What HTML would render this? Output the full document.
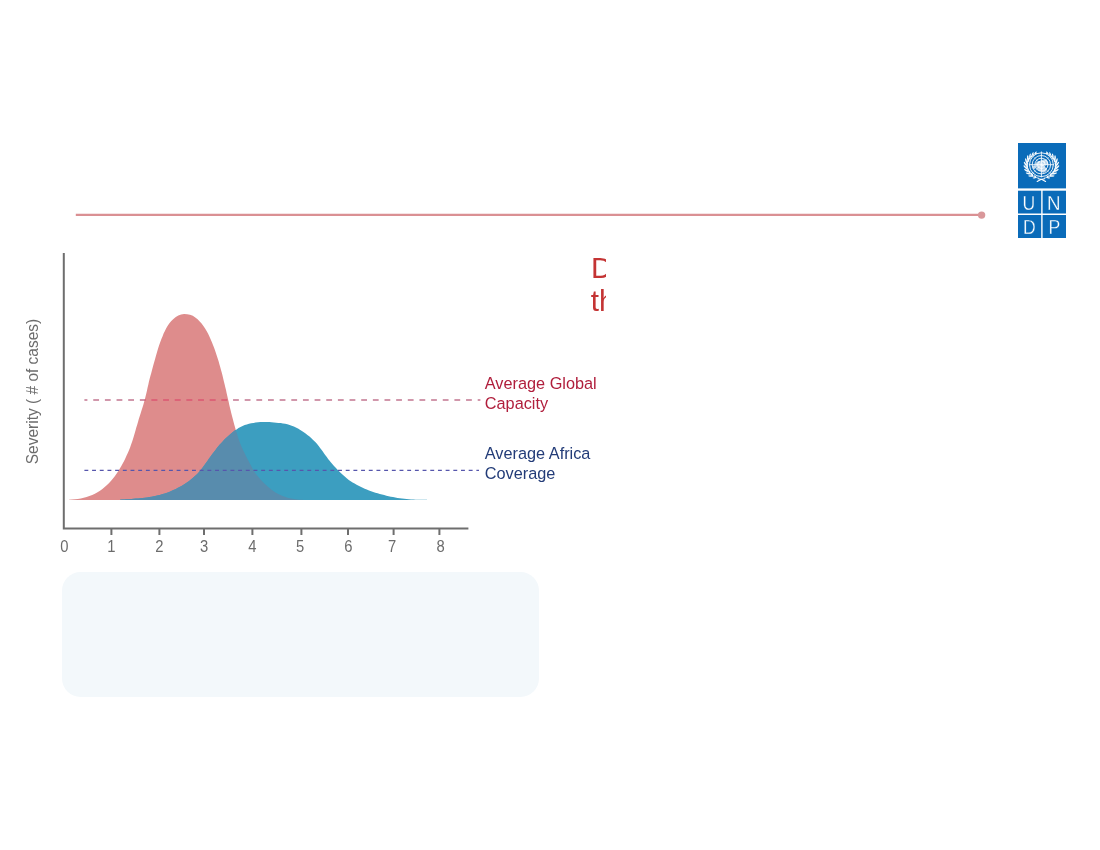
<!DOCTYPE html>
<html lang="en"><head><meta charset="utf-8"><title>Flatten the curve</title>
<style>
html,body{margin:0;padding:0;background:#fff;}
body{width:1100px;height:850px;overflow:hidden;position:relative;font-family:"Liberation Sans",Arial,sans-serif;}
svg{position:absolute;left:0;top:0;display:block}
text{font-family:"Liberation Sans",Arial,sans-serif}
.note{position:absolute;left:62px;top:571.6px;width:477px;height:125.4px;border-radius:18.5px;background:#F3F8FB}
</style></head><body>
<div class="note"></div>
<svg width="1100" height="850" viewBox="0 0 1100 850">
 <defs>
  <clipPath id="cut"><rect x="585" y="245" width="21" height="80"/></clipPath>
  <clipPath id="redclip"><path d="M69.0 500.0L69.0 499.8L71.9 499.6L74.9 499.3L77.8 498.9L80.8 498.4L83.7 497.8L86.6 497.0L89.4 496.0L92.2 495.0L94.9 493.7L97.5 492.3L100.0 490.7L102.4 489.0L104.7 487.1L107.0 485.1L109.1 483.0L111.1 480.8L113.0 478.6L114.8 476.2L116.5 473.8L118.2 471.3L119.7 468.8L121.2 466.2L122.7 463.6L124.1 461.0L125.4 458.3L126.6 455.6L127.8 452.9L129.0 450.2L130.1 447.4L131.1 444.6L132.1 441.8L133.0 439.0L133.9 436.1L134.7 433.3L135.5 430.5L136.3 427.6L137.2 424.7L138.0 421.9L138.8 419.0L139.7 416.2L140.6 413.4L141.5 410.6L142.4 407.7L143.3 404.9L144.1 402.0L144.9 399.2L145.6 396.3L146.3 393.4L147.0 390.5L147.6 387.6L148.3 384.7L148.9 381.8L149.6 379.0L150.4 376.1L151.2 373.2L151.9 370.4L152.7 367.5L153.5 364.6L154.3 361.8L155.1 358.9L155.9 356.1L156.7 353.2L157.5 350.4L158.4 347.5L159.3 344.7L160.3 341.9L161.4 339.1L162.5 336.4L163.6 333.6L164.9 330.9L166.2 328.3L167.7 325.7L169.4 323.3L171.3 321.0L173.4 318.9L175.8 317.0L178.3 315.5L181.1 314.6L184.1 314.1L187.1 314.2L190.0 314.7L192.8 315.8L195.3 317.4L197.6 319.3L199.7 321.4L201.6 323.6L203.4 326.0L205.1 328.5L206.6 331.0L208.0 333.6L209.3 336.3L210.5 339.0L211.7 341.7L212.8 344.5L213.9 347.3L214.9 350.1L215.9 352.9L216.8 355.7L217.7 358.5L218.6 361.3L219.4 364.2L220.2 367.0L221.0 369.9L221.8 372.8L222.5 375.6L223.2 378.5L223.9 381.4L224.6 384.3L225.3 387.2L226.0 390.1L226.6 393.0L227.3 395.9L227.9 398.8L228.6 401.6L229.2 404.5L229.9 407.4L230.6 410.3L231.3 413.2L232.0 416.1L232.8 418.9L233.5 421.8L234.3 424.7L235.1 427.5L235.9 430.4L236.8 433.3L237.6 436.1L238.6 438.9L239.6 441.7L240.6 444.5L241.8 447.2L243.0 449.9L244.3 452.6L245.6 455.2L246.9 457.9L248.3 460.5L249.7 463.2L251.1 465.8L252.5 468.4L254.0 470.9L255.6 473.4L257.4 475.8L259.3 478.1L261.3 480.3L263.4 482.4L265.5 484.5L267.7 486.5L270.0 488.4L272.3 490.3L274.7 492.0L277.3 493.5L279.9 494.8L282.7 496.0L285.5 497.0L288.3 497.9L291.2 498.5L294.1 499.1L297.1 499.4L300.0 499.7L303.0 499.8L303.0 500.0Z"/></clipPath>
 </defs>
 <!-- header rule -->
 <line x1="75.8" y1="214.9" x2="981" y2="214.9" stroke="#DA9093" stroke-width="2.3"/>
 <circle cx="981.6" cy="215.1" r="3.7" fill="#D9979A"/>
 <!-- curves -->
 <path d="M69.0 500.0L69.0 499.8L71.9 499.6L74.9 499.3L77.8 498.9L80.8 498.4L83.7 497.8L86.6 497.0L89.4 496.0L92.2 495.0L94.9 493.7L97.5 492.3L100.0 490.7L102.4 489.0L104.7 487.1L107.0 485.1L109.1 483.0L111.1 480.8L113.0 478.6L114.8 476.2L116.5 473.8L118.2 471.3L119.7 468.8L121.2 466.2L122.7 463.6L124.1 461.0L125.4 458.3L126.6 455.6L127.8 452.9L129.0 450.2L130.1 447.4L131.1 444.6L132.1 441.8L133.0 439.0L133.9 436.1L134.7 433.3L135.5 430.5L136.3 427.6L137.2 424.7L138.0 421.9L138.8 419.0L139.7 416.2L140.6 413.4L141.5 410.6L142.4 407.7L143.3 404.9L144.1 402.0L144.9 399.2L145.6 396.3L146.3 393.4L147.0 390.5L147.6 387.6L148.3 384.7L148.9 381.8L149.6 379.0L150.4 376.1L151.2 373.2L151.9 370.4L152.7 367.5L153.5 364.6L154.3 361.8L155.1 358.9L155.9 356.1L156.7 353.2L157.5 350.4L158.4 347.5L159.3 344.7L160.3 341.9L161.4 339.1L162.5 336.4L163.6 333.6L164.9 330.9L166.2 328.3L167.7 325.7L169.4 323.3L171.3 321.0L173.4 318.9L175.8 317.0L178.3 315.5L181.1 314.6L184.1 314.1L187.1 314.2L190.0 314.7L192.8 315.8L195.3 317.4L197.6 319.3L199.7 321.4L201.6 323.6L203.4 326.0L205.1 328.5L206.6 331.0L208.0 333.6L209.3 336.3L210.5 339.0L211.7 341.7L212.8 344.5L213.9 347.3L214.9 350.1L215.9 352.9L216.8 355.7L217.7 358.5L218.6 361.3L219.4 364.2L220.2 367.0L221.0 369.9L221.8 372.8L222.5 375.6L223.2 378.5L223.9 381.4L224.6 384.3L225.3 387.2L226.0 390.1L226.6 393.0L227.3 395.9L227.9 398.8L228.6 401.6L229.2 404.5L229.9 407.4L230.6 410.3L231.3 413.2L232.0 416.1L232.8 418.9L233.5 421.8L234.3 424.7L235.1 427.5L235.9 430.4L236.8 433.3L237.6 436.1L238.6 438.9L239.6 441.7L240.6 444.5L241.8 447.2L243.0 449.9L244.3 452.6L245.6 455.2L246.9 457.9L248.3 460.5L249.7 463.2L251.1 465.8L252.5 468.4L254.0 470.9L255.6 473.4L257.4 475.8L259.3 478.1L261.3 480.3L263.4 482.4L265.5 484.5L267.7 486.5L270.0 488.4L272.3 490.3L274.7 492.0L277.3 493.5L279.9 494.8L282.7 496.0L285.5 497.0L288.3 497.9L291.2 498.5L294.1 499.1L297.1 499.4L300.0 499.7L303.0 499.8L303.0 500.0Z" fill="#DE8C8C"/>
 <path d="M120.0 500.0L120.0 499.8L122.2 499.6L124.5 499.5L126.8 499.3L129.0 499.2L131.3 499.0L133.6 498.8L135.8 498.6L138.1 498.4L140.4 498.2L142.7 498.0L144.9 497.7L147.2 497.4L149.4 497.0L151.7 496.7L153.9 496.3L156.2 495.8L158.4 495.3L160.6 494.7L162.8 494.1L164.9 493.4L167.1 492.7L169.2 491.9L171.3 491.0L173.4 490.1L175.5 489.2L177.5 488.1L179.5 487.1L181.5 486.0L183.5 484.8L185.4 483.6L187.3 482.3L189.1 481.0L190.9 479.6L192.7 478.1L194.4 476.6L196.1 475.1L197.7 473.5L199.2 471.8L200.7 470.1L202.1 468.3L203.4 466.4L204.8 464.6L206.1 462.7L207.4 460.9L208.7 459.0L210.0 457.2L211.4 455.3L212.7 453.5L214.1 451.7L215.5 449.9L216.9 448.1L218.3 446.3L219.8 444.6L221.3 442.9L222.9 441.2L224.4 439.6L226.0 438.0L227.7 436.4L229.4 434.9L231.1 433.4L232.9 432.0L234.7 430.6L236.6 429.4L238.5 428.1L240.5 427.0L242.6 426.0L244.7 425.1L246.8 424.4L249.0 423.7L251.2 423.2L253.5 422.9L255.7 422.5L258.0 422.3L260.3 422.1L262.5 422.0L264.8 422.0L267.1 422.0L269.4 422.1L271.6 422.3L273.9 422.5L276.2 422.7L278.4 422.9L280.7 423.1L283.0 423.4L285.2 423.8L287.4 424.3L289.6 425.0L291.7 425.7L293.9 426.6L295.9 427.5L298.0 428.6L299.9 429.7L301.9 430.9L303.8 432.2L305.6 433.5L307.4 434.9L309.2 436.3L310.9 437.8L312.6 439.4L314.2 441.0L315.8 442.6L317.3 444.3L318.7 446.1L320.1 447.9L321.5 449.7L322.8 451.5L324.1 453.4L325.4 455.2L326.8 457.1L328.1 458.9L329.6 460.7L331.0 462.4L332.5 464.2L334.0 465.9L335.5 467.5L337.1 469.2L338.7 470.9L340.3 472.5L341.9 474.1L343.6 475.6L345.3 477.1L347.0 478.5L348.8 479.9L350.7 481.2L352.6 482.5L354.6 483.6L356.6 484.8L358.6 485.8L360.6 486.8L362.7 487.8L364.7 488.7L366.8 489.6L369.0 490.4L371.1 491.2L373.2 492.0L375.4 492.7L377.6 493.3L379.8 493.9L382.0 494.5L384.2 495.1L386.4 495.7L388.6 496.2L390.8 496.7L393.0 497.1L395.3 497.5L397.5 497.9L399.8 498.2L402.0 498.5L404.3 498.8L406.5 499.0L408.8 499.2L411.1 499.4L413.4 499.5L415.6 499.7L417.9 499.7L420.2 499.8L422.5 499.8L424.7 499.8L427.0 499.8L427.0 500.0Z" fill="#3C9EC0"/>
 <path d="M120.0 500.0L120.0 499.8L122.2 499.6L124.5 499.5L126.8 499.3L129.0 499.2L131.3 499.0L133.6 498.8L135.8 498.6L138.1 498.4L140.4 498.2L142.7 498.0L144.9 497.7L147.2 497.4L149.4 497.0L151.7 496.7L153.9 496.3L156.2 495.8L158.4 495.3L160.6 494.7L162.8 494.1L164.9 493.4L167.1 492.7L169.2 491.9L171.3 491.0L173.4 490.1L175.5 489.2L177.5 488.1L179.5 487.1L181.5 486.0L183.5 484.8L185.4 483.6L187.3 482.3L189.1 481.0L190.9 479.6L192.7 478.1L194.4 476.6L196.1 475.1L197.7 473.5L199.2 471.8L200.7 470.1L202.1 468.3L203.4 466.4L204.8 464.6L206.1 462.7L207.4 460.9L208.7 459.0L210.0 457.2L211.4 455.3L212.7 453.5L214.1 451.7L215.5 449.9L216.9 448.1L218.3 446.3L219.8 444.6L221.3 442.9L222.9 441.2L224.4 439.6L226.0 438.0L227.7 436.4L229.4 434.9L231.1 433.4L232.9 432.0L234.7 430.6L236.6 429.4L238.5 428.1L240.5 427.0L242.6 426.0L244.7 425.1L246.8 424.4L249.0 423.7L251.2 423.2L253.5 422.9L255.7 422.5L258.0 422.3L260.3 422.1L262.5 422.0L264.8 422.0L267.1 422.0L269.4 422.1L271.6 422.3L273.9 422.5L276.2 422.7L278.4 422.9L280.7 423.1L283.0 423.4L285.2 423.8L287.4 424.3L289.6 425.0L291.7 425.7L293.9 426.6L295.9 427.5L298.0 428.6L299.9 429.7L301.9 430.9L303.8 432.2L305.6 433.5L307.4 434.9L309.2 436.3L310.9 437.8L312.6 439.4L314.2 441.0L315.8 442.6L317.3 444.3L318.7 446.1L320.1 447.9L321.5 449.7L322.8 451.5L324.1 453.4L325.4 455.2L326.8 457.1L328.1 458.9L329.6 460.7L331.0 462.4L332.5 464.2L334.0 465.9L335.5 467.5L337.1 469.2L338.7 470.9L340.3 472.5L341.9 474.1L343.6 475.6L345.3 477.1L347.0 478.5L348.8 479.9L350.7 481.2L352.6 482.5L354.6 483.6L356.6 484.8L358.6 485.8L360.6 486.8L362.7 487.8L364.7 488.7L366.8 489.6L369.0 490.4L371.1 491.2L373.2 492.0L375.4 492.7L377.6 493.3L379.8 493.9L382.0 494.5L384.2 495.1L386.4 495.7L388.6 496.2L390.8 496.7L393.0 497.1L395.3 497.5L397.5 497.9L399.8 498.2L402.0 498.5L404.3 498.8L406.5 499.0L408.8 499.2L411.1 499.4L413.4 499.5L415.6 499.7L417.9 499.7L420.2 499.8L422.5 499.8L424.7 499.8L427.0 499.8L427.0 500.0Z" fill="#588CAD" clip-path="url(#redclip)"/>
 <!-- dashed reference lines -->
 <line x1="84.4" y1="400" x2="480.4" y2="400" stroke="#C27590" stroke-width="1.6" stroke-dasharray="5.8 5.85" stroke-dashoffset="2.8"/>
 <line x1="84.4" y1="400" x2="480.4" y2="400" stroke="#E25C70" stroke-width="1.6" stroke-dasharray="5.8 5.85" stroke-dashoffset="2.8" clip-path="url(#redclip)"/>
 <line x1="84.4" y1="470.4" x2="479" y2="470.4" stroke="#5656AC" stroke-width="1.3" stroke-dasharray="3.9 3.786"/>
 <!-- axes -->
 <g stroke="#6E6E6E" stroke-width="2" fill="none">
  <path d="M63.8 253V528.6H468.4"/>
  <line x1="111.4" y1="528.6" x2="111.4" y2="535" /><line x1="159.4" y1="528.6" x2="159.4" y2="535" /><line x1="204.0" y1="528.6" x2="204.0" y2="535" /><line x1="252.4" y1="528.6" x2="252.4" y2="535" /><line x1="301.4" y1="528.6" x2="301.4" y2="535" /><line x1="348.0" y1="528.6" x2="348.0" y2="535" /><line x1="393.6" y1="528.6" x2="393.6" y2="535" /><line x1="439.4" y1="528.6" x2="439.4" y2="535" />
 </g>
 <g font-size="17" fill="#6C6C6C" text-anchor="middle"><text transform="translate(64.4 551.5) scale(.87 1)">0</text><text transform="translate(111.4 551.5) scale(.87 1)">1</text><text transform="translate(159.4 551.5) scale(.87 1)">2</text><text transform="translate(204.0 551.5) scale(.87 1)">3</text><text transform="translate(252.4 551.5) scale(.87 1)">4</text><text transform="translate(300.2 551.5) scale(.87 1)">5</text><text transform="translate(348.4 551.5) scale(.87 1)">6</text><text transform="translate(392.0 551.5) scale(.87 1)">7</text><text transform="translate(440.6 551.5) scale(.87 1)">8</text></g>
 <text transform="translate(38.3 391.5) rotate(-90) scale(.896 1)" font-size="17.3" fill="#6C6C6C" text-anchor="middle">Severity ( # of cases)</text>
 <g font-size="16.3" fill="#B01E3C"><text x="484.8" y="389">Average Global</text><text x="484.8" y="409">Capacity</text></g>
 <g font-size="16.3" fill="#233C78"><text x="484.8" y="459.2">Average Africa</text><text x="484.8" y="478.6">Coverage</text></g>
 <!-- clipped heading -->
 <g clip-path="url(#cut)" fill="#C43434"><text x="591" y="277.7" font-size="29.8">D</text><text x="590.8" y="310.6" font-size="29.6">th</text></g>
 <!-- UNDP logo -->
 <g>
  <rect x="1018" y="143" width="48" height="45.4" fill="#0A6BB9"/>
  <rect x="1018" y="190.7" width="23.2" height="22.8" fill="#0A6BB9"/>
  <rect x="1042.6" y="190.7" width="23.4" height="22.8" fill="#0A6BB9"/>
  <rect x="1018" y="215" width="23.2" height="23" fill="#0A6BB9"/>
  <rect x="1042.6" y="215" width="23.4" height="23" fill="#0A6BB9"/>
  <g font-size="20" fill="#fff" text-anchor="middle" stroke="#0A6BB9" stroke-width=".3">
   <text transform="translate(1028.9 210.1) scale(.88 1)">U</text><text transform="translate(1053.8 210.1) scale(.94 1)">N</text>
   <text transform="translate(1029.4 233.7) scale(.88 1)">D</text><text transform="translate(1054.4 233.7) scale(.88 1)">P</text>
  </g>
  <g transform="translate(1041.4 164.7)" fill="none" stroke="#fff">
<circle r="11.9" stroke-width="0.95" stroke-opacity=".95"/>
<circle r="9.2" stroke-width="0.9" stroke-opacity=".95"/>
<circle r="6.5" stroke-width="0.9" stroke-opacity=".95"/>
<circle r="3.8" stroke-width="0.9" stroke-opacity=".95"/>
<path d="M-12.6 0H12.6M0-13.2V12.6" stroke-width="0.85"/>
<path d="M-8.41 -8.41L8.41 8.41M8.41 -8.41L-8.41 8.41" stroke-width="0.5" stroke-opacity=".8"/>
<g fill="#fff" fill-opacity=".72" stroke="none" transform="scale(.9)">
<path d="M-6.200-1.800c1.500-1.900 3.900-2.600 5.300-1.500 1 .8.300 2.100 1.100 2.900.9.900 2.300.400 2.700 1.600.4 1.300-1 2-1.800 3-.8 1-.6 2.700-1.900 3.100-1.500.500-2.500-1-3.400-2.200-1.100-1.500-3.300-4.600-2-6.900z"/>
<path d="M1.400-5.400c1.800-.7 4.300-.2 5.400 1.300.9 1.200 1.200 3.200.2 4.100-.9.900-2.200-.2-3.300.300-1 .5-1.200 1.900-2.300 1.700-1.200-.2-1.200-1.700-1.600-2.800-.5-1.300-.6-3.700 1.600-4.600z"/>
<path d="M1.200 3.400c1.400-.9 3.900-.8 4.700.6.700 1.300-.2 3-1.300 3.900-1.100.900-2.900 1.500-3.900.600-1.200-1.100-1.200-4 .5-5.100z"/>
<path d="M-9.200 1.200c.7-.6 1.900-.5 2.400.3.500.900.200 2.300-.5 3-.7.700-1.700.3-2.100-.6-.4-.9-.4-2.100.2-2.700z"/>
</g>
<g fill="#fff" fill-opacity=".97" stroke="none"><ellipse cx="-6.95" cy="13.09" rx="1.84" ry="0.64" transform="rotate(-188.5 -6.95 13.09)"/><ellipse cx="-6.19" cy="11.81" rx="1.46" ry="0.64" transform="rotate(-136.5 -6.19 11.81)"/><ellipse cx="-10.70" cy="11.29" rx="2.45" ry="0.80" transform="rotate(-176.3 -10.70 11.29)"/><ellipse cx="-9.35" cy="9.84" rx="1.95" ry="0.80" transform="rotate(-124.3 -9.35 9.84)"/><ellipse cx="-13.28" cy="8.79" rx="2.45" ry="0.80" transform="rotate(-163.3 -13.28 8.79)"/><ellipse cx="-11.64" cy="7.68" rx="1.95" ry="0.80" transform="rotate(-111.3 -11.64 7.68)"/><ellipse cx="-15.13" cy="5.82" rx="2.45" ry="0.80" transform="rotate(-149.5 -15.13 5.82)"/><ellipse cx="-13.27" cy="5.13" rx="1.95" ry="0.80" transform="rotate(-97.5 -13.27 5.13)"/><ellipse cx="-16.11" cy="2.53" rx="2.45" ry="0.80" transform="rotate(-134.8 -16.11 2.53)"/><ellipse cx="-14.14" cy="2.34" rx="1.95" ry="0.80" transform="rotate(-82.8 -14.14 2.34)"/><ellipse cx="-16.18" cy="-0.85" rx="2.45" ry="0.80" transform="rotate(-119.5 -16.18 -0.85)"/><ellipse cx="-14.23" cy="-0.52" rx="1.95" ry="0.80" transform="rotate(-67.5 -14.23 -0.52)"/><ellipse cx="-15.35" cy="-4.12" rx="2.45" ry="0.80" transform="rotate(-104.0 -15.35 -4.12)"/><ellipse cx="-13.55" cy="-3.28" rx="1.95" ry="0.80" transform="rotate(-52.0 -13.55 -3.28)"/><ellipse cx="-13.68" cy="-7.10" rx="2.45" ry="0.80" transform="rotate(-89.0 -13.68 -7.10)"/><ellipse cx="-12.17" cy="-5.82" rx="1.95" ry="0.80" transform="rotate(-37.0 -12.17 -5.82)"/><ellipse cx="-11.40" cy="-9.27" rx="2.08" ry="0.68" transform="rotate(-74.8 -11.40 -9.27)"/><ellipse cx="-10.42" cy="-7.90" rx="1.66" ry="0.68" transform="rotate(-22.8 -10.42 -7.90)"/><ellipse cx="-8.70" cy="-10.95" rx="1.72" ry="0.64" transform="rotate(-61.4 -8.70 -10.95)"/><ellipse cx="-8.17" cy="-9.67" rx="1.36" ry="0.64" transform="rotate(-9.4 -8.17 -9.67)"/><ellipse cx="-5.69" cy="-12.10" rx="1.35" ry="0.64" transform="rotate(-48.9 -5.69 -12.10)"/><ellipse cx="-5.50" cy="-11.03" rx="1.07" ry="0.64" transform="rotate(3.1 -5.50 -11.03)"/><path fill="none" stroke="#fff" stroke-width=".7" d="M-2.60 13.40L-3.93 13.15L-5.22 12.79L-6.46 12.33L-7.66 11.78L-8.79 11.14L-9.85 10.41L-10.83 9.60L-11.72 8.71L-12.52 7.77L-13.21 6.76L-13.80 5.70L-14.27 4.60L-14.63 3.47L-14.87 2.32L-14.99 1.15L-14.98 -0.03L-14.86 -1.19L-14.61 -2.35L-14.24 -3.48L-13.76 -4.57L-13.17 -5.63L-12.47 -6.63L-11.66 -7.58L-10.76 -8.45L-9.78 -9.26L-8.71 -9.98L-7.58 -10.62L-6.38 -11.17L-5.13 -11.62"/><path fill="none" stroke="#fff" stroke-width="1.1" stroke-linecap="round" d="M-3.2 14.0L0.6 14.800 4.200 16.800"/></g>
<g fill="#fff" fill-opacity=".97" stroke="none" transform="scale(-1 1)"><ellipse cx="-6.95" cy="13.09" rx="1.84" ry="0.64" transform="rotate(-188.5 -6.95 13.09)"/><ellipse cx="-6.19" cy="11.81" rx="1.46" ry="0.64" transform="rotate(-136.5 -6.19 11.81)"/><ellipse cx="-10.70" cy="11.29" rx="2.45" ry="0.80" transform="rotate(-176.3 -10.70 11.29)"/><ellipse cx="-9.35" cy="9.84" rx="1.95" ry="0.80" transform="rotate(-124.3 -9.35 9.84)"/><ellipse cx="-13.28" cy="8.79" rx="2.45" ry="0.80" transform="rotate(-163.3 -13.28 8.79)"/><ellipse cx="-11.64" cy="7.68" rx="1.95" ry="0.80" transform="rotate(-111.3 -11.64 7.68)"/><ellipse cx="-15.13" cy="5.82" rx="2.45" ry="0.80" transform="rotate(-149.5 -15.13 5.82)"/><ellipse cx="-13.27" cy="5.13" rx="1.95" ry="0.80" transform="rotate(-97.5 -13.27 5.13)"/><ellipse cx="-16.11" cy="2.53" rx="2.45" ry="0.80" transform="rotate(-134.8 -16.11 2.53)"/><ellipse cx="-14.14" cy="2.34" rx="1.95" ry="0.80" transform="rotate(-82.8 -14.14 2.34)"/><ellipse cx="-16.18" cy="-0.85" rx="2.45" ry="0.80" transform="rotate(-119.5 -16.18 -0.85)"/><ellipse cx="-14.23" cy="-0.52" rx="1.95" ry="0.80" transform="rotate(-67.5 -14.23 -0.52)"/><ellipse cx="-15.35" cy="-4.12" rx="2.45" ry="0.80" transform="rotate(-104.0 -15.35 -4.12)"/><ellipse cx="-13.55" cy="-3.28" rx="1.95" ry="0.80" transform="rotate(-52.0 -13.55 -3.28)"/><ellipse cx="-13.68" cy="-7.10" rx="2.45" ry="0.80" transform="rotate(-89.0 -13.68 -7.10)"/><ellipse cx="-12.17" cy="-5.82" rx="1.95" ry="0.80" transform="rotate(-37.0 -12.17 -5.82)"/><ellipse cx="-11.40" cy="-9.27" rx="2.08" ry="0.68" transform="rotate(-74.8 -11.40 -9.27)"/><ellipse cx="-10.42" cy="-7.90" rx="1.66" ry="0.68" transform="rotate(-22.8 -10.42 -7.90)"/><ellipse cx="-8.70" cy="-10.95" rx="1.72" ry="0.64" transform="rotate(-61.4 -8.70 -10.95)"/><ellipse cx="-8.17" cy="-9.67" rx="1.36" ry="0.64" transform="rotate(-9.4 -8.17 -9.67)"/><ellipse cx="-5.69" cy="-12.10" rx="1.35" ry="0.64" transform="rotate(-48.9 -5.69 -12.10)"/><ellipse cx="-5.50" cy="-11.03" rx="1.07" ry="0.64" transform="rotate(3.1 -5.50 -11.03)"/><path fill="none" stroke="#fff" stroke-width=".7" d="M-2.60 13.40L-3.93 13.15L-5.22 12.79L-6.46 12.33L-7.66 11.78L-8.79 11.14L-9.85 10.41L-10.83 9.60L-11.72 8.71L-12.52 7.77L-13.21 6.76L-13.80 5.70L-14.27 4.60L-14.63 3.47L-14.87 2.32L-14.99 1.15L-14.98 -0.03L-14.86 -1.19L-14.61 -2.35L-14.24 -3.48L-13.76 -4.57L-13.17 -5.63L-12.47 -6.63L-11.66 -7.58L-10.76 -8.45L-9.78 -9.26L-8.71 -9.98L-7.58 -10.62L-6.38 -11.17L-5.13 -11.62"/><path fill="none" stroke="#fff" stroke-width="1.1" stroke-linecap="round" d="M-3.2 14.0L0.6 14.800 4.200 16.800"/></g>
</g>
 </g>
</svg>
</body></html>
